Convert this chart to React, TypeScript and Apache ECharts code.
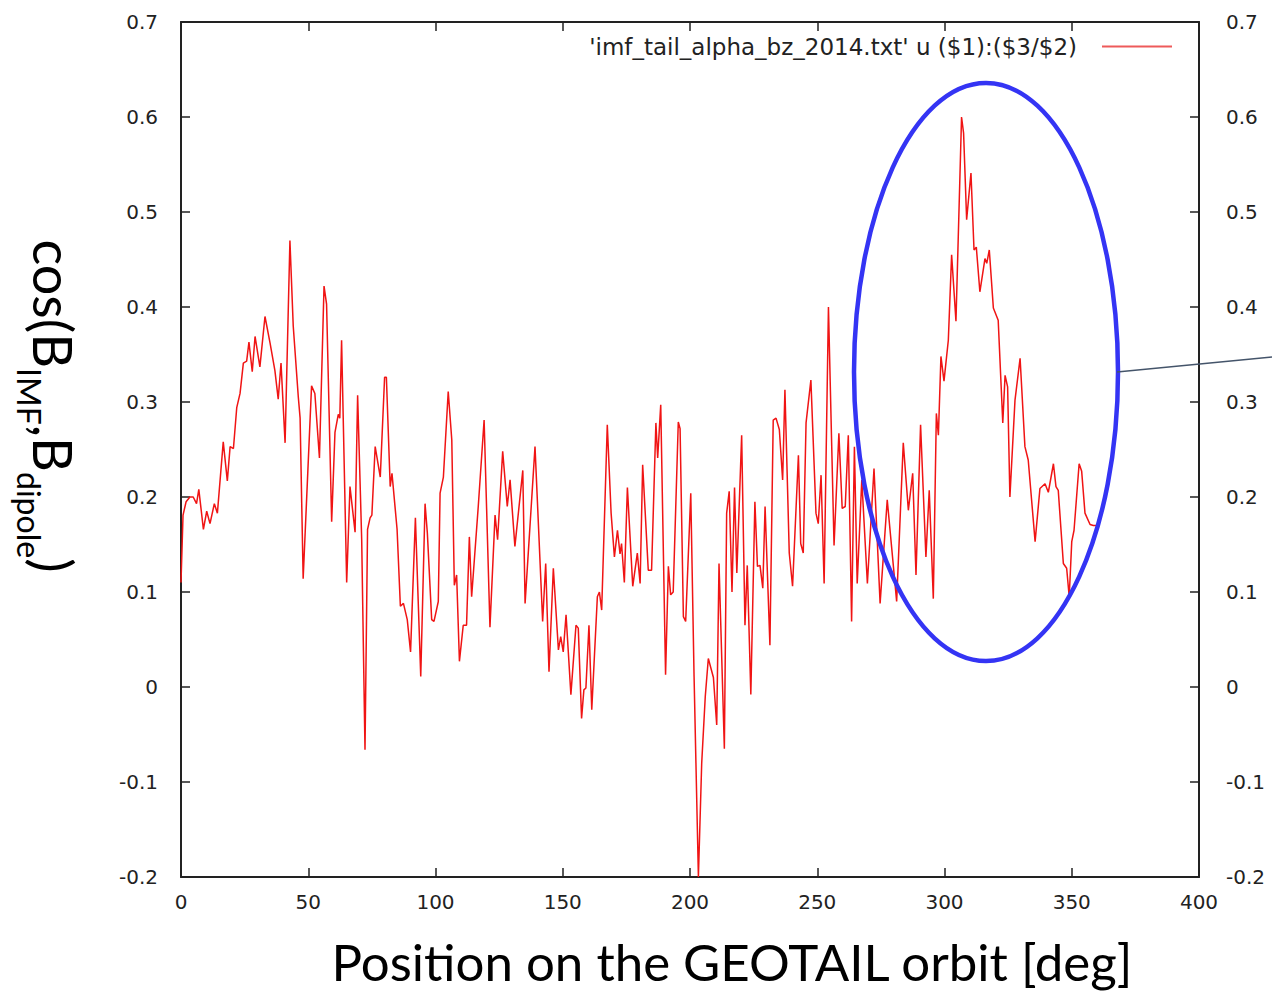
import React, { useEffect, useRef } from "react";
import * as echarts from "echarts";

// Position on the orbit [deg]
const orbitDeg = [
  0, 0.8, 2.0, 3.5, 4.8, 6.1, 7.0, 8.8, 10.1, 11.4, 13.1, 14.3, 16.6, 18.2, 19.3, 20.6, 21.9, 23.2, 24.5, 25.8,
  26.7, 28.0, 29.1, 31.0, 33.0, 35.0, 36.9, 38.2, 39.3, 40.9, 42.8, 44.1, 46.1, 46.8, 48.0, 51.3, 52.6, 54.4, 56.2, 57.2,
  59.2, 60.5, 61.8, 62.4, 63.1, 65.1, 66.4, 68.4, 69.4, 71.0, 72.3, 73.3, 74.3, 75.0, 76.3, 78.3, 80.0, 80.7, 82.2, 82.9,
  84.9, 86.2, 87.4, 88.9, 90.2, 92.1, 94.2, 95.9, 96.8, 98.5, 99.4, 101.1, 101.8, 103.1, 105.0, 106.4, 107.4, 108.3, 109.4, 110.9,
  112.2, 113.3, 114.2, 116.8, 119.1, 121.4, 123.4, 124.4, 126.4, 128.2, 129.3, 131.2, 134.3, 135.2, 139.1, 142.1, 143.3, 144.6, 146.3, 148.3,
  149.2, 150.2, 151.3, 153.2, 155.2, 156.1, 157.4, 158.3, 159.1, 160.3, 161.4, 163.6, 164.4, 165.3, 167.5, 169.0, 170.3, 171.5, 172.5, 173.1,
  174.2, 175.4, 177.5, 179.3, 180.4, 181.4, 183.6, 184.9, 186.6, 187.3, 188.5, 190.4, 191.5, 192.4, 193.4, 195.4, 196.1, 197.4, 198.3, 200.3,
  201.6, 203.3, 204.6, 206.0, 207.2, 208.2, 209.2, 210.5, 211.4, 213.5, 214.4, 215.4, 216.5, 217.5, 218.4, 220.3, 221.6, 222.5, 223.9, 225.5,
  226.5, 227.5, 228.6, 229.5, 231.4, 232.7, 233.8, 235.1, 236.4, 237.3, 239.0, 240.3, 242.6, 243.5, 244.5, 245.6, 247.5, 249.5, 250.4, 251.5,
  252.7, 254.4, 256.6, 258.5, 259.8, 261.0, 262.2, 263.5, 264.6, 265.7, 267.5, 269.7, 272.3, 274.7, 277.5, 281.2, 283.8, 285.8, 287.5, 288.8,
  290.6, 292.7, 294.0, 295.6, 296.8, 297.6, 298.6, 299.8, 301.5, 302.8, 304.5, 306.7, 307.5, 308.7, 310.4, 311.6, 312.5, 313.9, 315.9, 316.6,
  317.6, 319.2, 321.1, 322.9, 323.8, 324.8, 325.7, 327.7, 329.7, 331.6, 332.9, 335.6, 337.5, 339.5, 340.8, 342.8, 343.8, 344.7, 346.7, 348.0,
  349.0, 350.0, 350.9, 352.9, 353.9, 355.2, 357.2, 358.5, 360.0,
];

// cos(B_IMF, B_dipole)
const cosAngle = [
  0.11, 0.181, 0.195, 0.2, 0.2, 0.193, 0.208, 0.166, 0.185, 0.172, 0.193, 0.183, 0.258, 0.217, 0.253, 0.251, 0.294, 0.309, 0.341, 0.343,
  0.363, 0.332, 0.369, 0.337, 0.39, 0.362, 0.333, 0.303, 0.341, 0.257, 0.47, 0.38, 0.305, 0.283, 0.114, 0.317, 0.309, 0.241, 0.422, 0.403,
  0.174, 0.268, 0.287, 0.283, 0.365, 0.11, 0.211, 0.163, 0.307, 0.155, -0.066, 0.166, 0.178, 0.181, 0.253, 0.221, 0.326, 0.326, 0.211, 0.225,
  0.166, 0.085, 0.088, 0.071, 0.037, 0.178, 0.011, 0.193, 0.162, 0.071, 0.069, 0.09, 0.204, 0.221, 0.311, 0.26, 0.107, 0.118, 0.027, 0.065,
  0.065, 0.158, 0.095, 0.19, 0.281, 0.063, 0.181, 0.155, 0.248, 0.19, 0.218, 0.148, 0.228, 0.088, 0.253, 0.069, 0.13, 0.016, 0.125, 0.039,
  0.053, 0.037, 0.076, -0.008, 0.065, 0.062, -0.033, -0.003, -0.001, 0.065, -0.024, 0.095, 0.1, 0.081, 0.276, 0.183, 0.137, 0.165, 0.14, 0.151,
  0.11, 0.21, 0.106, 0.141, 0.109, 0.234, 0.123, 0.123, 0.278, 0.241, 0.297, 0.013, 0.127, 0.097, 0.1, 0.279, 0.272, 0.074, 0.069, 0.204,
  0.011, -0.2, -0.08, -0.01, 0.03, 0.02, 0.01, -0.04, 0.13, -0.065, 0.183, 0.206, 0.1, 0.21, 0.12, 0.265, 0.065, 0.128, -0.008, 0.195,
  0.127, 0.128, 0.104, 0.19, 0.044, 0.281, 0.283, 0.271, 0.218, 0.313, 0.141, 0.106, 0.244, 0.151, 0.141, 0.278, 0.323, 0.183, 0.172, 0.223,
  0.109, 0.4, 0.149, 0.267, 0.188, 0.19, 0.265, 0.069, 0.253, 0.109, 0.218, 0.109, 0.23, 0.088, 0.197, 0.09, 0.257, 0.186, 0.225, 0.118,
  0.276, 0.137, 0.207, 0.093, 0.288, 0.265, 0.348, 0.322, 0.365, 0.455, 0.385, 0.6, 0.583, 0.492, 0.541, 0.46, 0.463, 0.416, 0.451, 0.446,
  0.46, 0.399, 0.386, 0.278, 0.328, 0.316, 0.2, 0.302, 0.346, 0.253, 0.239, 0.153, 0.209, 0.214, 0.205, 0.235, 0.211, 0.207, 0.13, 0.125,
  0.095, 0.153, 0.165, 0.235, 0.227, 0.183, 0.171, 0.17, 0.17,
];

const legendLabel = "'imf_tail_alpha_bz_2014.txt' u ($1):($3/$2)";
const xTitle = "Position on the GEOTAIL orbit [deg]";

const tickFont = "DejaVu Sans";
const titleFont = "Lato";

export default function App() {
  const ref = useRef<HTMLDivElement>(null);

  useEffect(() => {
    document.body.style.margin = "0";
    const chart = echarts.init(ref.current as HTMLDivElement, null, { renderer: "svg" });
    const data = orbitDeg.map((d, i) => [d, cosAngle[i]]);
    const axisLine = { show: true, onZero: false, lineStyle: { color: "#222", width: 2 } };
    const axisTick = { show: true, inside: true, length: 9, lineStyle: { color: "#222", width: 1.5 } };
    const yLabelFmt = (v: number) => String(Math.round(v * 10) / 10);

    chart.setOption({
      animation: false,
      backgroundColor: "#ffffff",
      grid: { left: 181, right: 73, top: 22, bottom: 115, containLabel: false },
      legend: {
        show: true,
        right: 95,
        top: 30,
        align: "right",
        itemWidth: 70,
        itemHeight: 14,
        icon: "path://M0,6L70,6L70,8L0,8Z",
        textStyle: { fontFamily: tickFont, fontSize: 23, color: "#222", padding: [0, 20, 0, 0] },
        itemStyle: { color: "#ee5a5a" },
        data: [legendLabel],
      },
      xAxis: [
        {
          type: "value",
          position: "bottom",
          min: 0,
          max: 400,
          interval: 50,
          axisLine,
          axisTick,
          splitLine: { show: false },
          axisLabel: { margin: 15, fontFamily: tickFont, fontSize: 20, color: "#222" },
        },
        {
          type: "value",
          position: "top",
          min: 0,
          max: 400,
          interval: 50,
          axisLine,
          axisTick,
          splitLine: { show: false },
          axisLabel: { show: false },
        },
      ],
      yAxis: [
        {
          type: "value",
          position: "left",
          min: -0.2,
          max: 0.7,
          interval: 0.1,
          axisLine,
          axisTick,
          splitLine: { show: false },
          axisLabel: { margin: 23, fontFamily: tickFont, fontSize: 20, color: "#222", formatter: yLabelFmt },
        },
        {
          type: "value",
          position: "right",
          min: -0.2,
          max: 0.7,
          interval: 0.1,
          axisLine,
          axisTick,
          splitLine: { show: false },
          axisLabel: { margin: 27, fontFamily: tickFont, fontSize: 20, color: "#222", formatter: yLabelFmt },
        },
      ],
      series: [
        {
          type: "line",
          name: legendLabel,
          data,
          xAxisIndex: 0,
          yAxisIndex: 0,
          symbol: "none",
          showSymbol: false,
          smooth: false,
          lineStyle: { color: "#f01414", width: 1.5 },
          itemStyle: { color: "#f01414" },
          z: 3,
        },
      ],
      graphic: [
        {
          type: "ellipse",
          shape: { cx: 986, cy: 372, rx: 132, ry: 289 },
          style: { fill: "none", stroke: "#3434f4", lineWidth: 4.5 },
          z: 100,
        },
        {
          type: "line",
          shape: { x1: 1117, y1: 372, x2: 1272, y2: 357 },
          style: { stroke: "#44546a", lineWidth: 1.3 },
          z: 100,
        },
        {
          type: "text",
          x: 732,
          y: 961,
          style: {
            text: xTitle,
            fontFamily: titleFont,
            fontSize: 51,
            fill: "#000",
            align: "center",
            verticalAlign: "middle",
          },
          z: 100,
        },
        {
          type: "text",
          x: 53,
          y: 406,
          rotation: -Math.PI / 2,
          style: {
            text: "{b|cos(B}{s|IMF}{b|,B}{s|dipole}{b|)}",
            align: "center",
            verticalAlign: "middle",
            fill: "#000",
            rich: {
              b: { fontFamily: titleFont, fontSize: 54, lineHeight: 80, fill: "#000" },
              s: { fontFamily: titleFont, fontSize: 32, lineHeight: 20, verticalAlign: "bottom", fill: "#000" },
            },
          },
          z: 100,
        },
      ],
    });
    return () => chart.dispose();
  }, []);

  return <div ref={ref} style={{ width: 1272, height: 992 }} />;
}
